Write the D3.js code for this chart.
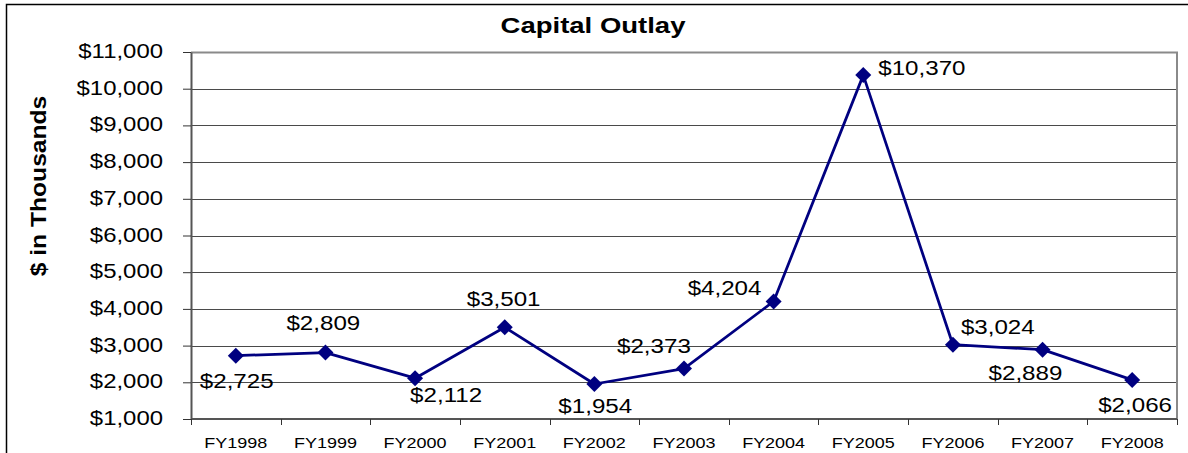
<!DOCTYPE html>
<html>
<head>
<meta charset="utf-8">
<script src="https://cdn.jsdelivr.net/npm/d3@7"></script>
<style>
  body { margin: 0; background: #fff; }
  svg { display: block; font-family: "Liberation Sans", Arial, sans-serif; }
</style>
</head>
<body>
<div id="chart"></div>
<script>
const years = ["FY1998", "FY1999", "FY2000", "FY2001", "FY2002", "FY2003",
               "FY2004", "FY2005", "FY2006", "FY2007", "FY2008"];
const outlay = [2725, 2809, 2112, 3501, 1954, 2373, 4204, 10370, 3024, 2889, 2066];
const yTicks = [1000, 2000, 3000, 4000, 5000, 6000, 7000, 8000, 9000, 10000, 11000];

// where each value label sits relative to its marker (as in the original chart)
const labelOffsets = [[-36, 32], [-39, -23], [-5, 24], [-38, -21], [-36, 29], [-67, -16],
                      [-86, -6], [15, 0], [8, -11], [-54, 30], [-34, 32]];

const W = 1188, H = 453;
const margin = {top: 52, right: 11, bottom: 34, left: 191};
const width = W - margin.left - margin.right;
const height = H - margin.top - margin.bottom;
const navy = "#000080";

const svg = d3.select("#chart").append("svg")
    .attr("width", W)
    .attr("height", H);

// outer chart border (runs off the right and bottom edge)
svg.append("rect")
    .attr("x", 6.5).attr("y", 4.5)
    .attr("width", 1200).attr("height", 470)
    .attr("fill", "none")
    .attr("stroke", "#000")
    .attr("stroke-width", 1.5);

svg.append("text")
    .attr("transform", "translate(593,33) scale(1.25,1)")
    .attr("text-anchor", "middle")
    .style("font-size", "22px")
    .style("font-weight", "bold")
    .text("Capital Outlay");

svg.append("text")
    .attr("transform", "translate(46,186) rotate(-90) scale(1.12,1)")
    .attr("text-anchor", "middle")
    .style("font-size", "22px")
    .style("font-weight", "bold")
    .text("$ in Thousands");

const g = svg.append("g")
    .attr("transform", "translate(" + margin.left + "," + margin.top + ")");

const x = d3.scaleBand()
    .domain(years)
    .range([0, width])
    .padding(0);

const y = d3.scaleLinear()
    .domain([1000, 11000])
    .range([height, 0]);

// gridlines
g.append("g")
    .selectAll("line")
    .data(yTicks.slice(1, -1))
    .enter().append("line")
    .attr("x1", 0).attr("x2", width)
    .attr("y1", d => Math.round(y(d)) + 0.5)
    .attr("y2", d => Math.round(y(d)) + 0.5)
    .attr("stroke", "#4a4a4a")
    .attr("stroke-width", 1);

// plot frame (top / right)
g.append("path")
    .attr("d", "M0," + 0.5 + "H" + width + "V" + height)
    .attr("fill", "none")
    .attr("stroke", "#8a8a8a")
    .attr("stroke-width", 2);

const yAxis = d3.axisLeft(y)
    .tickValues(yTicks)
    .tickSize(8)
    .tickSizeOuter(0)
    .tickFormat(d => "$" + d3.format(",")(d));

g.append("g")
    .attr("class", "y_axis")
    .call(yAxis)
    .call(s => s.select(".domain").attr("stroke", "#555").attr("stroke-width", 2))
    .call(s => s.selectAll(".tick line").attr("stroke", "#333"))
    .selectAll("text")
    .attr("x", null)
    .attr("dy", null)
    .attr("dominant-baseline", "middle")
    .attr("transform", "translate(-28,0) scale(1.14,1)")
    .attr("text-anchor", "end")
    .attr("fill", "#000")
    .style("font-size", "21px")
    .style("font-family", "Liberation Sans, Arial, sans-serif");

// x axis: ticks at category boundaries
const xg = g.append("g")
    .attr("transform", "translate(0," + height + ")");

xg.append("line")
    .attr("x1", 0).attr("x2", width)
    .attr("stroke", "#555")
    .attr("stroke-width", 2);

xg.selectAll("line.tick")
    .data(years.map(d => x(d)).concat([width]))
    .enter().append("line")
    .attr("class", "tick")
    .attr("x1", d => Math.round(d) + 0.5).attr("x2", d => Math.round(d) + 0.5)
    .attr("y1", 0).attr("y2", 6)
    .attr("stroke", "#333");

xg.selectAll("text")
    .data(years)
    .enter().append("text")
    .attr("transform", d => "translate(" + (x(d) + x.bandwidth() / 2) + ",29) scale(1.2,1)")
    .attr("text-anchor", "middle")
    .style("font-size", "15px")
    .text(d => d);

const pts = years.map((d, i) => ({year: d, value: outlay[i], off: labelOffsets[i]}));

const line = d3.line()
    .x(d => x(d.year) + x.bandwidth() / 2)
    .y(d => y(d.value));

g.append("path")
    .datum(pts)
    .attr("d", line)
    .attr("fill", "none")
    .attr("stroke", navy)
    .attr("stroke-width", 2.75)
    .attr("stroke-linejoin", "round");

const r = 8;
g.selectAll("path.marker")
    .data(pts)
    .enter().append("path")
    .attr("class", "marker")
    .attr("transform", d => "translate(" + (x(d.year) + x.bandwidth() / 2) + "," + y(d.value) + ")")
    .attr("d", "M0," + (-r) + "L" + r + ",0L0," + r + "L" + (-r) + ",0Z")
    .attr("fill", navy);

g.selectAll("text.lbl")
    .data(pts)
    .enter().append("text")
    .attr("class", "lbl")
    .attr("transform", d => "translate(" + (x(d.year) + x.bandwidth() / 2 + d.off[0]) + "," +
        (y(d.value) + d.off[1]) + ") scale(1.15,1)")
    .style("font-size", "21px")
    .text(d => "$" + d3.format(",")(d.value));
</script>
</body>
</html>
